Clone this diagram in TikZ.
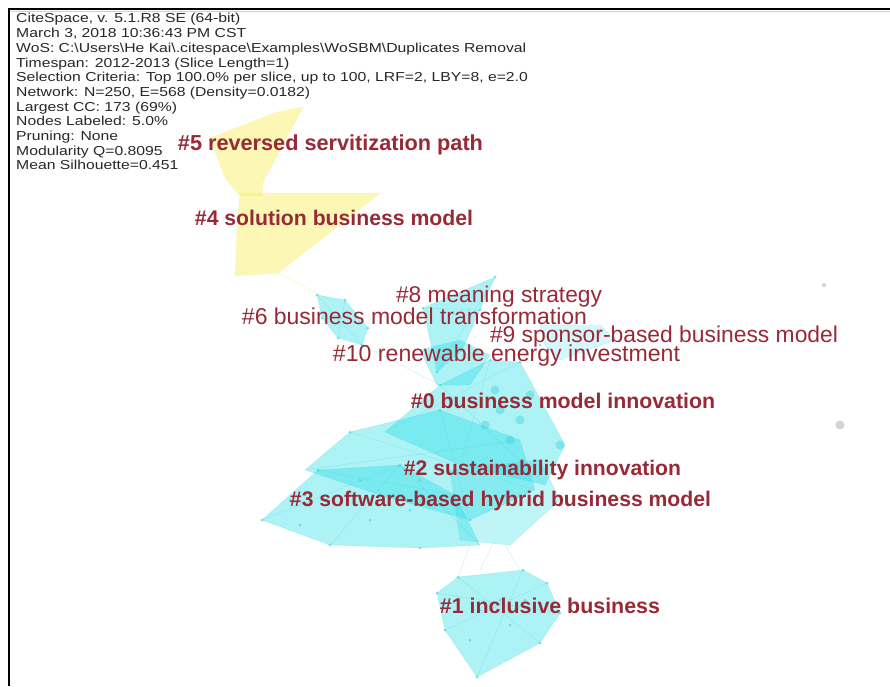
\documentclass[tikz,border=0pt]{standalone}
\usepackage{fontspec}
\setmainfont{Liberation Sans}
\usepackage{graphicx}
\definecolor{lblred}{RGB}{152,42,55}
\definecolor{cyanf}{RGB}{30,220,230}
\definecolor{cyand}{RGB}{60,205,220}
\definecolor{yelf}{RGB}{248,238,80}
\definecolor{hdr}{RGB}{40,40,40}
\newcommand{\blbl}[2]{\resizebox{#1pt}{!}{\textbf{#2}}}
\newcommand{\rlbl}[2]{\resizebox{#1pt}{!}{#2}}
\tikzset{
  cl/.style={fill=cyanf, fill opacity=0.36, draw=cyand, draw opacity=0.25, line width=0.4pt},
  yl/.style={fill=yelf, fill opacity=0.42, draw=yelf, draw opacity=0.25, line width=0.4pt},
  edge/.style={draw=cyand, opacity=0.3, line width=0.4pt},
  dot/.style={circle, fill=cyand, fill opacity=0.6, inner sep=0pt, minimum size=3pt},
  bigdot/.style={circle, fill=cyand, fill opacity=0.4, inner sep=0pt, minimum size=9pt},
  gdot/.style={circle, fill=gray!35, inner sep=0pt},
  lab/.style={text=lblred, inner sep=0pt}
}
\begin{document}
\begin{tikzpicture}[x=1pt,y=-1pt]
\useasboundingbox (0,0) rectangle (890,686);
\fill[white] (0,0) rectangle (890,686);

% yellow clusters
\fill[yl] (210,138) -- (277,112) -- (303,107) -- (263,182) -- (262,196) -- (240,196) -- (225,178) -- cycle;
\fill[yl] (240,193) -- (380,193) -- (278,273) -- (235,276) -- (237,230) -- cycle;
\draw[draw=yelf, opacity=0.4] (278,273) -- (330,300);

% cyan clusters
\fill[cl] (317,295) -- (345,300) -- (368,328) -- (362,345) -- (338,338) -- (322,318) -- cycle;
\fill[cl] (495,277) -- (423,308) -- (437,372) -- (462,350) -- (480,310) -- cycle;
\fill[cl, fill opacity=0.18] (540,325) -- (600,325) -- (615,340) -- (560,360) -- (545,345) -- cycle;
\fill[cl] (420,350) -- (460,340) -- (490,355) -- (470,385) -- (437,385) -- cycle;
\fill[cl] (262,520) -- (318,470) -- (400,465) -- (455,495) -- (480,545) -- (420,548) -- (330,545) -- cycle;
\fill[cl] (305,470) -- (350,432) -- (440,410) -- (520,440) -- (535,490) -- (470,520) -- (380,495) -- cycle;
\fill[cl] (385,432) -- (440,385) -- (490,360) -- (520,362) -- (565,445) -- (545,485) -- (460,465) -- cycle;
\fill[cl, fill opacity=0.28] (450,470) -- (540,460) -- (560,500) -- (510,545) -- (460,540) -- cycle;
\fill[cl] (437,593) -- (458,577) -- (523,570) -- (547,583) -- (560,613) -- (540,643) -- (477,677) -- (445,630) -- cycle;

% faint network edges
\draw[edge] (362,345) -- (440,385);
\draw[edge] (458,577) -- (470,545) (480,570) -- (495,540) (520,570) -- (505,545);
\draw[edge] (262,520) -- (400,465) -- (480,545) (318,470) -- (455,495) (330,545) -- (400,465);
\draw[edge] (350,432) -- (535,490) (440,410) -- (470,520) (305,470) -- (520,440);
\draw[edge] (440,385) -- (545,485) (490,360) -- (460,465) (520,362) -- (385,432);
\draw[edge] (458,577) -- (540,643) (523,570) -- (477,677) (437,593) -- (560,613) (445,630) -- (547,583);
\draw[edge] (495,277) -- (437,372) (423,308) -- (480,310);
\draw[edge] (317,295) -- (362,345) (345,300) -- (338,338);

% nodes of the network
\foreach \p in {(317,295),(345,300),(368,328),(362,345),(338,338),(322,318),
  (495,277),(423,308),(437,372),(462,350),(480,310),
  (262,520),(318,470),(400,465),(455,495),(330,545),(420,548),
  (350,432),(440,410),(380,495),(470,520),(440,385),(490,360),(520,362),
  (437,593),(458,577),(523,570),(547,583),(560,613),(540,643),(477,677),(445,630),
  (480,610),(500,600),(510,625),(470,640),(525,600),
  (290,500),(340,505),(370,520),(410,510),(300,525),(360,480),(420,480),
  (560,330),(600,330),(540,345)}
  \node[dot] at \p {};
\foreach \p in {(560,445),(520,420),(500,410),(510,440),(485,425),(530,395),(495,390)}
  \node[bigdot] at \p {};
\node[gdot, minimum size=4pt] (g1) at (824,285) {};
\node[gdot, minimum size=9pt] (g2) at (840,425) {};

% border
\draw[line width=2.5pt] (9,686) -- (9,9) -- (890,9);
\draw[cyand!50, line width=1.5pt] (10.5,11.5) -- (890,11.5);

% header
\node[anchor=north west, inner sep=0pt, text=hdr] (hdr) at (16,12.5)
{\fontsize{13}{14.7}\selectfont\scalebox{1.21}[1]{\begin{tabular}{@{}l@{}}
CiteSpace, v. 5.1.R8 SE (64-bit)\\
March 3, 2018 10:36:43 PM CST\\
WoS: C:\textbackslash Users\textbackslash He Kai\textbackslash .citespace\textbackslash Examples\textbackslash WoSBM\textbackslash Duplicates Removal\\
Timespan: 2012-2013 (Slice Length=1)\\
Selection Criteria: Top 100.0\% per slice, up to 100, LRF=2, LBY=8, e=2.0\\
Network: N=250, E=568 (Density=0.0182)\\
Largest CC: 173 (69\%)\\
Nodes Labeled: 5.0\%\\
Pruning: None\\
Modularity Q=0.8095\\
Mean Silhouette=0.451
\end{tabular}}};

% cluster labels
\node[lab] (c5) at (330.5,145) {\blbl{305}{\#5 reversed servitization path}};
\node[lab] (c4) at (334,218) {\blbl{278}{\#4 solution business model}};
\node[lab] (c8) at (499,297) {\rlbl{206}{\#8 meaning strategy}};
\node[lab] (c6) at (414.5,316) {\rlbl{345}{\#6 business model transformation}};
\node[lab] (c9) at (664,337) {\rlbl{348}{\#9 sponsor-based business model}};
\node[lab] (c10) at (506.5,356) {\rlbl{347}{\#10 renewable energy investment}};
\node[lab] (c0) at (563,401) {\blbl{304}{\#0 business model innovation}};
\node[lab] (c2) at (542.5,470) {\blbl{277}{\#2 sustainability innovation}};
\node[lab] (c3) at (500.5,501) {\blbl{421}{\#3 software-based hybrid business model}};
\node[lab] (c1) at (550,606) {\blbl{220}{\#1 inclusive business}};
\end{tikzpicture}
\end{document}
